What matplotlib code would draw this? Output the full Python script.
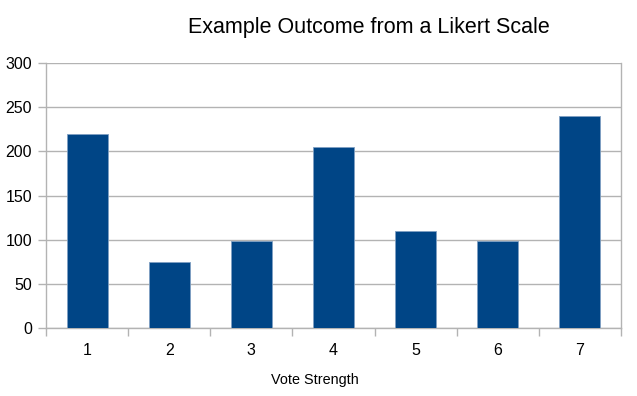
import matplotlib
matplotlib.use("Agg")
import matplotlib.pyplot as plt

# valores
categories = ["1", "2", "3", "4", "5", "6", "7"]
votes = [220, 75, 98, 205, 110, 99, 240]
y_ticks = [0, 50, 100, 150, 200, 250, 300]

BAR_COLOR = "#004586"
GRID_COLOR = "#b3b3b3"

plt.rcParams["font.family"] = ["Liberation Sans", "DejaVu Sans"]

fig = plt.figure(figsize=(6.37, 3.96), dpi=100)
ax = fig.add_axes([46 / 637, 1 - 328 / 396, (621 - 46) / 637, (328 - 63) / 396])

x = list(range(len(categories)))
ax.bar(x, votes, width=0.5, color=BAR_COLOR, edgecolor="#7f9fc2", linewidth=0.6, zorder=3)

ax.set_xlim(-0.5, len(categories) - 0.5)
ax.set_ylim(0, 300)
ax.set_yticks(y_ticks)
ax.set_yticklabels([str(v) for v in y_ticks], fontsize=11.5)
ax.yaxis.grid(True, color=GRID_COLOR, linewidth=1, zorder=0)

# rótulos das categorias no centro, marcas de tick nas divisões
ax.set_xticks(x)
ax.set_xticklabels(categories, fontsize=11.5)
ax.tick_params(axis="x", which="major", length=0, pad=11)
ax.set_xticks([i - 0.5 for i in range(len(categories) + 1)], minor=True)
ax.tick_params(axis="x", which="minor", length=6, color=GRID_COLOR, width=1)
ax.tick_params(axis="y", length=6, color=GRID_COLOR, width=1, pad=4)

for side in ["left", "bottom", "right"]:
    ax.spines[side].set_color(GRID_COLOR)
    ax.spines[side].set_linewidth(1)
ax.spines["top"].set_visible(False)

fig.text(314.5 / 637, 1 - 380 / 396, "Vote Strength", ha="center", va="center", fontsize=10.4)
fig.text(368.5 / 637, 1 - 27.5 / 396, "Example Outcome from a Likert Scale",
         ha="center", va="center", fontsize=15.5)

fig.savefig("out.png", dpi=100)
